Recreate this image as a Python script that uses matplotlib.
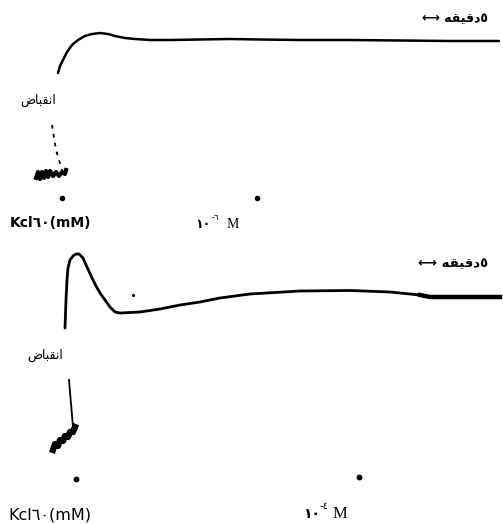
import numpy as np
import matplotlib.pyplot as plt

# trace 1 (KCl 60 mM then 10^-6 M) (x = time px, y = tension px, y down)
t1 = [58, 60, 63, 67, 72, 78, 85, 92, 100, 108, 115, 125, 135, 150, 170, 200, 230, 260, 300, 350, 400, 450, 499]
y1 = [73, 66, 60, 52, 45, 40, 36, 34, 33, 34, 36, 38, 39, 40, 40, 39.5, 39, 39.5, 40, 40, 40.5, 41, 41]
base1_t = [52, 56, 62]
base1_y = [125, 150, 170]
wig1_t = [36, 38, 40, 42, 44, 46, 48, 50, 53, 56, 59, 62, 65, 66]
wig1_y = [178, 172, 179, 172, 178, 171, 177, 171, 176, 172, 176, 172, 174, 170]
marks1_t = [62, 257]
marks1_y = [198, 198]

# trace 2 (KCl 60 mM then 10^-4 M)
t2 = [65, 66, 67, 68, 70, 73, 76, 79, 83, 87, 92, 96, 100, 105, 110, 115, 120, 140, 160, 180, 200, 220, 250, 300, 350, 390, 420, 430, 460, 500]
y2 = [328, 300, 280, 268, 260, 256, 254, 254, 258, 267, 278, 286, 293, 300, 307, 312, 313, 312, 309, 305, 302, 298, 294, 291, 290.5, 292, 295, 297, 297, 297]
base2_t = [69, 73]
base2_y = [380, 427]
wig2_t = [53, 55, 58, 60, 63, 65, 68, 70, 73, 75]
wig2_y = [450, 444, 446, 440, 441, 436, 437, 432, 432, 427]
marks2_t = [76, 359]
marks2_y = [479, 477]

# arabic words in visual (presentation form) order
contraction = "\uFEBD\uFE8E\uFE92\uFED8\uFEE7\uFE8D"          # انقباض
five_min = "\u27F7 \uFEEA\uFED8\uFEF4\uFED7\uFEA9\u0665"        # ٥دقيقه ⟷
kcl = "Kcl\u0666\u0660(mM)"

fig = plt.figure(figsize=(5.03, 5.24), dpi=100)
ax = fig.add_axes([0, 0, 1, 1])
ax.set_xlim(0, 503)
ax.set_ylim(524, 0)
ax.axis('off')

# top panel
ax.plot(t1, y1, color='black', lw=1.8, solid_capstyle='round')
ax.plot(base1_t, base1_y, color='black', lw=1.3, ls=(0, (2, 3)))
ax.plot(wig1_t, wig1_y, color='black', lw=3.0)
ax.plot(marks1_t, marks1_y, 'o', color='black', ms=3)
ax.text(38, 100, contraction, fontsize=9, ha='center', va='center', family='DejaVu Sans')
ax.text(455, 19, five_min, fontsize=9, fontweight='bold', ha='center', va='center', family='DejaVu Sans')
ax.text(10, 223, kcl, fontsize=10, fontweight='bold', ha='left', va='center', family='DejaVu Sans')
ax.text(195, 224, "\u0661\u0660", fontsize=9, fontweight='bold', ha='left', va='center', family='DejaVu Sans')
ax.text(212, 218, "-\u0666", fontsize=6, ha='left', va='center', family='DejaVu Sans')
ax.text(227, 224, "M", fontsize=10, ha='left', va='center', family='Liberation Serif')

# bottom panel
ax.plot(t2, y2, color='black', lw=2.0, solid_capstyle='round')
ax.plot(t2[-4:], y2[-4:], color='black', lw=3.2)
ax.plot([133], [295], 'o', color='black', ms=1.2)
ax.plot(base2_t, base2_y, color='black', lw=1.3)
ax.plot(wig2_t, wig2_y, color='black', lw=4.5)
ax.plot(marks2_t, marks2_y, 'o', color='black', ms=3.2)
ax.text(45, 355, contraction, fontsize=9, ha='center', va='center', family='DejaVu Sans')
ax.text(453, 264, five_min, fontsize=9.5, fontweight='bold', ha='center', va='center', family='DejaVu Sans')
ax.text(8, 515, kcl, fontsize=11.5, ha='left', va='center', family='DejaVu Sans')
ax.text(303, 514, "\u0661\u0660", fontsize=10, fontweight='bold', ha='left', va='center', family='DejaVu Sans')
ax.text(320, 506, "-\u0664", fontsize=7, ha='left', va='center', family='DejaVu Sans')
ax.text(333, 514, "M", fontsize=12, ha='left', va='center', family='Liberation Serif')

fig.savefig('out.png', dpi=100)
